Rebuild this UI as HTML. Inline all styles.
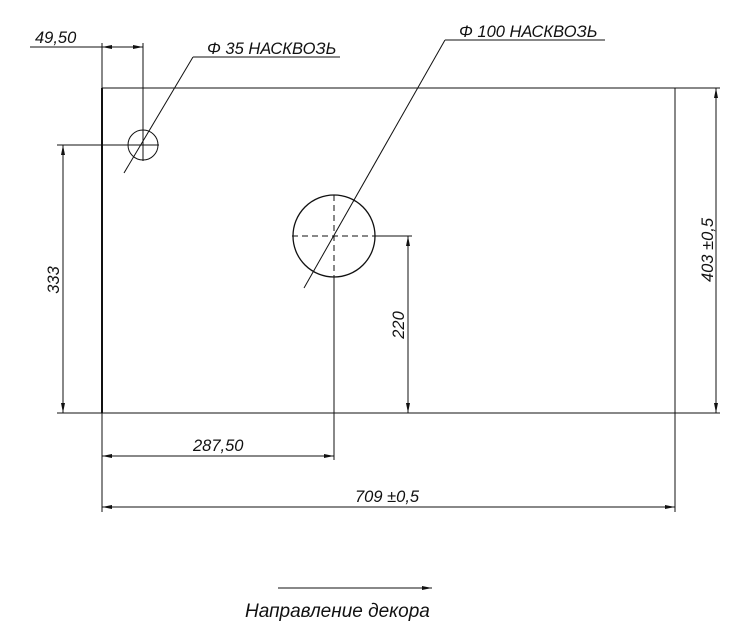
<!DOCTYPE html>
<html><head><meta charset="utf-8"><style>
html,body{margin:0;padding:0;background:#fff;width:732px;height:640px;overflow:hidden}
text{font-family:"Liberation Sans",sans-serif;font-style:italic;font-size:16.5px;fill:#111}
</style></head><body>
<svg width="732" height="640" viewBox="0 0 732 640" xmlns="http://www.w3.org/2000/svg">
<defs>
<marker id="a" viewBox="0 0 10 4" refX="10" refY="2" markerWidth="10" markerHeight="4" orient="auto-start-reverse" markerUnits="userSpaceOnUse"><path d="M0,0 L10,2 L0,4 Z" fill="#111"/></marker>
</defs>
<g stroke="#111" stroke-width="1" fill="none">
<line x1="102" y1="88" x2="720" y2="88"/>
<line x1="57" y1="413" x2="720" y2="413"/>
<line x1="102" y1="88" x2="102" y2="413" stroke-width="2"/>
<line x1="102" y1="413" x2="102" y2="512"/>
<line x1="675" y1="88" x2="675" y2="512"/>
<circle cx="143" cy="145" r="15"/>
<line x1="143" y1="43" x2="143" y2="161"/>
<line x1="57" y1="145" x2="159" y2="145"/>
<circle cx="334" cy="236" r="41" stroke-width="1.3"/>
<line x1="334" y1="195" x2="334" y2="460" stroke-dasharray="6,4"/>
<line x1="292" y1="236" x2="412" y2="236" stroke-dasharray="6,4"/>
<line x1="376" y1="236" x2="412" y2="236"/>
<line x1="334" y1="278" x2="334" y2="460"/>
<line x1="102" y1="43" x2="102" y2="88"/>
<line x1="30" y1="47" x2="102" y2="47"/>
<line x1="102" y1="47" x2="143" y2="47" marker-start="url(#a)" marker-end="url(#a)"/>
<line x1="193" y1="57" x2="340" y2="57"/>
<line x1="193" y1="57" x2="124" y2="173"/>
<line x1="445" y1="40" x2="605" y2="40"/>
<line x1="445" y1="40" x2="304" y2="288"/>
<line x1="63" y1="145" x2="63" y2="413" marker-start="url(#a)" marker-end="url(#a)"/>
<line x1="408" y1="236" x2="408" y2="413" marker-start="url(#a)" marker-end="url(#a)"/>
<line x1="716" y1="88" x2="716" y2="413" marker-start="url(#a)" marker-end="url(#a)"/>
<line x1="102" y1="456" x2="334" y2="456" marker-start="url(#a)" marker-end="url(#a)"/>
<line x1="102" y1="507" x2="675" y2="507" marker-start="url(#a)" marker-end="url(#a)"/>
<line x1="278" y1="588" x2="432" y2="588" marker-end="url(#a)"/>
</g>
<text x="35" y="43">49,50</text>
<text x="207" y="54">Φ 35 НАСКВОЗЬ</text>
<text x="459" y="37">Φ 100 НАСКВОЗЬ</text>
<text x="193" y="451">287,50</text>
<text x="355" y="502">709 ±0,5</text>
<text text-anchor="middle" transform="translate(59,280) rotate(-90)">333</text>
<text text-anchor="middle" transform="translate(404,325) rotate(-90)">220</text>
<text text-anchor="middle" transform="translate(713,250) rotate(-90)">403 ±0,5</text>
<text x="245" y="617" style="font-size:19px">Направление декора</text>
</svg>
</body></html>
